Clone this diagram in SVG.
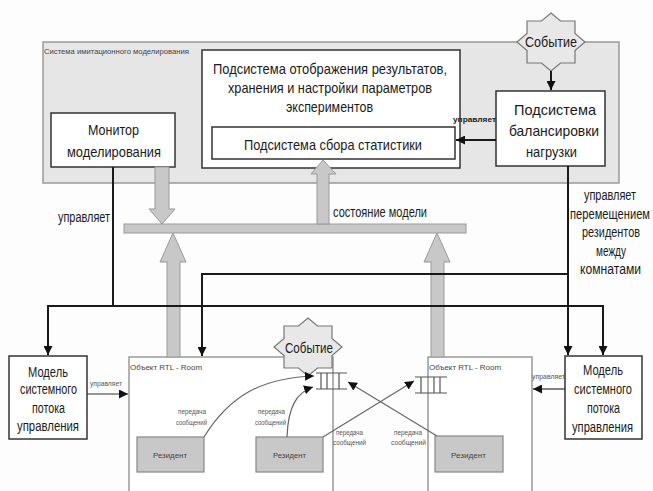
<svg xmlns="http://www.w3.org/2000/svg" width="653" height="491" viewBox="0 0 653 491">
<style>
text{font-family:"Liberation Sans Narrow","Liberation Sans",Arial,sans-serif;fill:#1a1a1a}
.big{font-size:15px}
.mid{font-size:14px}
.sm{font-size:8px;fill:#444}
.xs{font-size:6.5px;fill:#555}
.box{fill:#fff;stroke:#333;stroke-width:1.5}
.room{fill:#fff;stroke:#999;stroke-width:1.5}
.res{fill:#c8c8c8;stroke:#888;stroke-width:1.2}
.blk{fill:#c8c8c8;stroke:#999;stroke-width:1}
.star{fill:#e8e8e8;stroke:#777;stroke-width:1.2}
.ctl{fill:none;stroke:#1a1a1a;stroke-width:2}
.thin{fill:none;stroke:#333;stroke-width:1.2}
.msg{fill:none;stroke:#666;stroke-width:1.2}
.q{stroke:#555;stroke-width:1.2;fill:none}
</style>
<defs>
<marker id="ah" viewBox="0 0 10 10" refX="10" refY="5" markerUnits="userSpaceOnUse" markerWidth="9" markerHeight="9" orient="auto">
<path d="M0,0 L10,5 L0,10 z" fill="#111"/>
</marker>
<polygon id="starshape" points="0,-29 9.5,-21 24,-21 24,-8.5 34,0 24,8.5 24,21 9.5,21 0,29 -9.5,21 -24,21 -24,8.5 -34,0 -24,-8.5 -24,-21 -9.5,-21"/>
</defs>
<rect width="653" height="491" fill="#fdfdfd"/>

<g id="sim-system">
<rect x="43" y="42" width="576" height="141" fill="#e6e6e6" stroke="#999" stroke-width="1.5"/>
<text class="sm" x="44" y="54" textLength="145" lengthAdjust="spacingAndGlyphs">Система имитационного моделирования</text>
</g>

<g id="display-subsystem">
<rect class="box" x="202" y="50" width="258" height="118"/>
<text class="big" x="213" y="74" textLength="234" lengthAdjust="spacingAndGlyphs">Подсистема отображения результатов,</text>
<text class="big" x="228" y="93" textLength="204" lengthAdjust="spacingAndGlyphs">хранения и настройки параметров</text>
<text class="big" x="286" y="112" textLength="87" lengthAdjust="spacingAndGlyphs">экспериментов</text>
</g>

<g id="stats-subsystem">
<rect class="box" x="212" y="127" width="243" height="32"/>
<text class="big" x="244" y="150" textLength="178" lengthAdjust="spacingAndGlyphs">Подсистема сбора статистики</text>
</g>

<g id="monitor">
<rect class="box" x="51" y="113" width="124" height="54"/>
<text class="big" x="88" y="135" textLength="51" lengthAdjust="spacingAndGlyphs">Монитор</text>
<text class="big" x="67" y="157" textLength="94" lengthAdjust="spacingAndGlyphs">моделирования</text>
</g>

<g id="balancer">
<rect class="box" x="496" y="91" width="109" height="75"/>
<text class="big" x="514" y="115" textLength="82" lengthAdjust="spacingAndGlyphs">Подсистема</text>
<text class="big" x="509" y="136" textLength="90" lengthAdjust="spacingAndGlyphs">балансировки</text>
<text class="big" x="526" y="157" textLength="51" lengthAdjust="spacingAndGlyphs">нагрузки</text>
</g>

<g id="event-top">
<use href="#starshape" class="star" transform="translate(551,42)"/>
<text class="big" x="525" y="47" textLength="52" lengthAdjust="spacingAndGlyphs">Событие</text>
</g>

<g id="bus-bar">
<rect class="blk" x="124" y="224" width="342" height="9"/>
</g>

<g id="room1">
<rect class="room" x="129" y="357" width="204" height="140"/>
<text class="sm" x="130" y="370" textLength="72" lengthAdjust="spacingAndGlyphs">Объект RTL - Room</text>
</g>

<g id="room2">
<rect class="room" x="428" y="357" width="104" height="140"/>
<text class="sm" x="429" y="370" textLength="72" lengthAdjust="spacingAndGlyphs">Объект RTL - Room</text>
</g>

<g id="event-room">
<use href="#starshape" class="star" transform="translate(308,347)"/>
<text class="big" x="285" y="353" textLength="48" lengthAdjust="spacingAndGlyphs">Событие</text>
</g>

<g id="queue1">
<path class="q" d="M316,373 H347 M316,389 H347 M321,373 V389 M327,373 V389 M339,373 V389"/>
</g>
<g id="queue2">
<path class="q" d="M415,377 H447 M415,393 H447 M421,377 V393 M434,377 V393 M440,377 V393"/>
</g>

<g id="resident1">
<rect class="res" x="137" y="437" width="67" height="35"/>
<text class="sm" x="153" y="458" textLength="34" lengthAdjust="spacingAndGlyphs">Резидент</text>
</g>
<g id="resident2">
<rect class="res" x="256" y="437" width="67" height="35"/>
<text class="sm" x="273" y="458" textLength="33" lengthAdjust="spacingAndGlyphs">Резидент</text>
</g>
<g id="resident3">
<rect class="res" x="435" y="436" width="68" height="36"/>
<text class="sm" x="451" y="458" textLength="35" lengthAdjust="spacingAndGlyphs">Резидент</text>
</g>

<g id="model-left">
<rect class="box" x="9" y="356" width="78" height="83"/>
<text class="mid" x="28" y="377" textLength="40" lengthAdjust="spacingAndGlyphs">Модель</text>
<text class="mid" x="20" y="394" textLength="57" lengthAdjust="spacingAndGlyphs">системного</text>
<text class="mid" x="32" y="413" textLength="33" lengthAdjust="spacingAndGlyphs">потока</text>
<text class="mid" x="17" y="431" textLength="62" lengthAdjust="spacingAndGlyphs">управления</text>
</g>

<g id="model-right">
<rect class="box" x="565" y="356" width="77" height="83"/>
<text class="mid" x="583" y="375" textLength="40" lengthAdjust="spacingAndGlyphs">Модель</text>
<text class="mid" x="574" y="394" textLength="58" lengthAdjust="spacingAndGlyphs">системного</text>
<text class="mid" x="587" y="413" textLength="33" lengthAdjust="spacingAndGlyphs">потока</text>
<text class="mid" x="572" y="432" textLength="61" lengthAdjust="spacingAndGlyphs">управления</text>
</g>

<g id="connectors">
<polygon class="blk" points="155,167 169,167 169,209 175,209 162,224 149,209 155,209"/>
<polygon class="blk" points="317,224 329,224 329,174 336,174 323,160 311,174 317,174"/>
<polygon class="blk" points="167,357 180,357 180,262 186,262 173,233 160,262 167,262"/>
<polygon class="blk" points="431,357 444,357 444,262 450,262 437,233 424,262 431,262"/>
<text class="mid" x="333" y="217" textLength="94" lengthAdjust="spacingAndGlyphs">состояние модели</text>

<path class="ctl" d="M551,71 V90" marker-end="url(#ah)"/>
<path class="ctl" d="M496,140 H456" marker-end="url(#ah)"/>
<text class="sm" x="453" y="122" textLength="43" lengthAdjust="spacingAndGlyphs" style="fill:#222;font-weight:bold">управляет</text>

<path class="ctl" d="M113,167 V306 H48 V355" marker-end="url(#ah)"/>
<path class="ctl" d="M113,306 H603 V355" marker-end="url(#ah)"/>
<text class="mid" x="58" y="222" textLength="52" lengthAdjust="spacingAndGlyphs">управляет</text>

<path class="ctl" d="M568,166 V355" marker-end="url(#ah)"/>
<path class="ctl" d="M568,274 H202 V356" marker-end="url(#ah)"/>
<text class="mid" x="584" y="200" textLength="52" lengthAdjust="spacingAndGlyphs">управляет</text>
<text class="mid" x="570" y="219" textLength="80" lengthAdjust="spacingAndGlyphs">перемещением</text>
<text class="mid" x="582" y="237" textLength="58" lengthAdjust="spacingAndGlyphs">резидентов</text>
<text class="mid" x="596" y="256" textLength="30" lengthAdjust="spacingAndGlyphs">между</text>
<text class="mid" x="580" y="274" textLength="61" lengthAdjust="spacingAndGlyphs">комнатами</text>

<path class="thin" d="M87,394 H128" marker-end="url(#ah)"/>
<text class="xs" x="90" y="386" textLength="32" lengthAdjust="spacingAndGlyphs">управляет</text>
<path class="thin" d="M565,389 H533" marker-end="url(#ah)"/>
<text class="xs" x="532" y="379" textLength="33" lengthAdjust="spacingAndGlyphs">управляет</text>

<path class="msg" d="M204,437 C230,395 262,378 314,376" marker-end="url(#ah)"/>
<path class="msg" d="M287,437 C288,405 298,392 313,387" marker-end="url(#ah)"/>
<path class="msg" d="M323,437 L414,381" marker-end="url(#ah)"/>
<path class="msg" d="M437,436 L348,382" marker-end="url(#ah)"/>
<text class="xs" x="178" y="414" textLength="28" lengthAdjust="spacingAndGlyphs">передача</text>
<text class="xs" x="176" y="425" textLength="31" lengthAdjust="spacingAndGlyphs">сообщений</text>
<text class="xs" x="258" y="414" textLength="27" lengthAdjust="spacingAndGlyphs">передача</text>
<text class="xs" x="255" y="425" textLength="31" lengthAdjust="spacingAndGlyphs">сообщений</text>
<text class="xs" x="336" y="435" textLength="27" lengthAdjust="spacingAndGlyphs">передача</text>
<text class="xs" x="333" y="445" textLength="33" lengthAdjust="spacingAndGlyphs">сообщений</text>
<text class="xs" x="394" y="435" textLength="28" lengthAdjust="spacingAndGlyphs">передача</text>
<text class="xs" x="391" y="445" textLength="35" lengthAdjust="spacingAndGlyphs">сообщений</text>
</g>
</svg>
